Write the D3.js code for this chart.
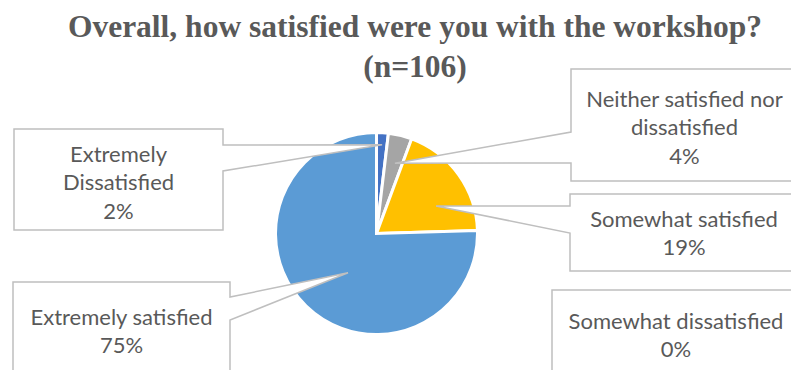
<!DOCTYPE html>
<html>
<head>
<meta charset="utf-8">
<script src="https://cdn.jsdelivr.net/npm/d3@7"></script>
<style>
  html, body { margin: 0; padding: 0; background: #fff; }
  svg { display: block; }
</style>
</head>
<body>
<svg id="chart"></svg>
<script>
// Data
const categories = [
    "Extremely Dissatisfied",
    "Somewhat dissatisfied",
    "Neither satisfied nor dissatisfied",
    "Somewhat satisfied",
    "Extremely satisfied",
];
const counts = [2, 0, 4, 20, 80];
const colors = ["#4472C4", "#ED7D31", "#A5A5A5", "#FFC000", "#5B9BD5"];
const titleLines = ["Overall, how satisfied were you with the workshop?", "(n=106)"];

// Helpers
const translate = (x, y) => `translate(${x}, ${y})`;

const width = 791, height = 370;
const center = { x: 376.5, y: 233.5 };
const radius = 101;

// callout boxes (layout only): box = [x0, y0, x1, y1], wedge = y's where the pointer leaves the box
const callouts = [
    { box: [14, 129, 223, 230], side: 'right', wedge: [145, 171], tipAt: [0.53, 0.88], textY: 153, wrap: 1 },
    { box: [552, 290, 800, 390], side: null, textY: 320, wrap: 0 },
    { box: [571, 69, 798, 181], side: 'left', wedge: [132, 163], tipAt: [0.58, 0.72], textY: 98, wrap: 3 },
    { box: [570, 194, 798, 271], side: 'left', wedge: [206, 233], tipAt: [0.66, 0.65], textY: 218, wrap: 0 },
    { box: [13, 282, 230, 390], side: 'right', wedge: [297, 320], tipAt: [0.47, 0.48], textY: 316, wrap: 0 },
];
const lineH = 28.5;

const svg = d3.select('#chart')
    .attr('width', width)
    .attr('height', height);

// Title
svg.append('text')
    .attr('x', 415)
    .attr('y', 37)
    .attr('text-anchor', 'middle')
    .attr('font-family', '"Liberation Serif", "Times New Roman", serif')
    .attr('font-weight', 'bold')
    .attr('font-size', 31.5)
    .attr('fill', '#595959')
    .selectAll('tspan')
    .data(titleLines)
    .join('tspan')
    .attr('x', 415)
    .attr('dy', (d, i) => i === 0 ? 0 : 39.5)
    .text(d => d);

// Pie
const total = d3.sum(counts);
const pie = d3.pie().sort(null).value(d => d)(counts);
const arc = d3.arc().innerRadius(0).outerRadius(radius);
const pct = d3.format('.0%');

const pieG = svg.append('g').attr('transform', translate(center.x, center.y));
pieG.selectAll('path')
    .data(pie.filter(d => d.value > 0))
    .join('path')
    .attr('d', arc)
    .attr('fill', d => colors[d.index])
    .attr('stroke', '#fff')
    .attr('stroke-width', 3)
    .attr('stroke-linejoin', 'miter');

// Callouts
const tipPoint = (a, [f, k]) => {
    const ang = a.startAngle + f * (a.endAngle - a.startAngle);
    return [center.x + Math.sin(ang) * radius * k, center.y - Math.cos(ang) * radius * k];
};

const calloutPath = (c, a) => {
    const [x0, y0, x1, y1] = c.box;
    const p = d3.path();
    p.moveTo(x0, y0);
    p.lineTo(x1, y0);
    if (c.side === 'right') {
        const [tx, ty] = tipPoint(a, c.tipAt);
        p.lineTo(x1, c.wedge[0]);
        p.lineTo(tx, ty);
        p.lineTo(x1, c.wedge[1]);
    }
    p.lineTo(x1, y1);
    p.lineTo(x0, y1);
    if (c.side === 'left') {
        const [tx, ty] = tipPoint(a, c.tipAt);
        p.lineTo(x0, c.wedge[1]);
        p.lineTo(tx, ty);
        p.lineTo(x0, c.wedge[0]);
    }
    p.closePath();
    return p.toString();
};

const labelLines = (i) => {
    const words = categories[i].split(' ');
    const w = callouts[i].wrap;
    const lines = w ? [words.slice(0, w).join(' '), words.slice(w).join(' ')] : [categories[i]];
    return [...lines, pct(counts[i] / total)];
};

const calloutG = svg.selectAll('g.callout')
    .data(pie)
    .join('g')
    .attr('class', 'callout');

calloutG.append('path')
    .attr('d', (d, i) => calloutPath(callouts[i], d))
    .attr('fill', '#fff')
    .attr('stroke', '#BFBFBF')
    .attr('stroke-width', 1.5)
    .attr('stroke-linejoin', 'miter');

calloutG.append('text')
    .attr('text-anchor', 'middle')
    .attr('font-family', 'Lato, "Open Sans", sans-serif')
    .attr('font-size', 22)
    .attr('fill', '#595959')
    .each((d, i, nodes) => {
        const c = callouts[i];
        const cx = (c.box[0] + c.box[2]) / 2;
        d3.select(nodes[i]).selectAll('tspan')
            .data(labelLines(i))
            .join('tspan')
            .attr('x', cx)
            .attr('y', (t, j) => c.textY + j * lineH)
            .attr('dominant-baseline', 'central')
            .text(t => t);
    });
</script>
</body>
</html>
